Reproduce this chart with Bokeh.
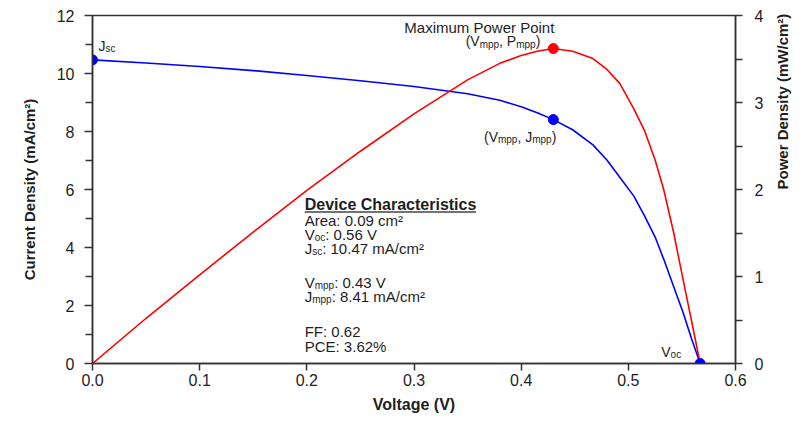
import math
from bokeh.plotting import figure
from bokeh.models import Range1d, LinearAxis, FixedTicker, NumeralTickFormatter
from bokeh.core.properties import value
from bokeh.embed import file_html
from bokeh.resources import INLINE

# ---------------- data ----------------
voltage = [0.000, 0.050, 0.100, 0.150, 0.200, 0.250, 0.300, 0.350, 0.380, 0.400,
           0.415, 0.430, 0.448, 0.467, 0.480, 0.492, 0.505, 0.515, 0.525, 0.533,
           0.542, 0.551, 0.559, 0.567]
current_density = [10.47, 10.36, 10.24, 10.10, 9.93, 9.75, 9.55, 9.30, 9.08, 8.85,
                   8.65, 8.41, 8.06, 7.54, 7.02, 6.42, 5.78, 5.10, 4.36, 3.60,
                   2.68, 1.77, 0.85, 0.00]
power_density = [0.00, 0.52, 1.02, 1.51, 1.99, 2.44, 2.87, 3.26, 3.45, 3.54,
                 3.59, 3.62, 3.59, 3.505, 3.38, 3.22, 2.93, 2.68, 2.34, 2.00,
                 1.52, 0.97, 0.49, 0.00]

jsc_point = (0.0, 10.47)
mpp_point_j = (0.43, 8.41)
mpp_point_p = (0.43, 3.62)
voc_point = (0.567, 0.0)

x_ticks = [0.0, 0.1, 0.2, 0.3, 0.4, 0.5, 0.6]
y_ticks = [0, 2, 4, 6, 8, 10, 12]
y_minor = [1, 3, 5, 7, 9, 11]
p_ticks = [0, 1, 2, 3, 4]
p_minor = [0.5, 1.5, 2.5, 3.5]

x_title = "Voltage (V)"
y_title = "Current Density (mA/cm²)"
p_title = "Power Density (mW/cm²)"

device_lines = [
    [("Device Characteristics", "b")],
    [("Area: 0.09 cm²", "n")],
    [("V", "n"), ("oc", "s"), (": 0.56 V", "n")],
    [("J", "n"), ("sc", "s"), (": 10.47 mA/cm²", "n")],
    [("V", "n"), ("mpp", "s"), (": 0.43 V", "n")],
    [("J", "n"), ("mpp", "s"), (": 8.41 mA/cm²", "n")],
    [("FF: 0.62", "n")],
    [("PCE: 3.62%", "n")],
]

# ---------------- layout ----------------
X0, X1 = 0.0, 0.6
Y0, Y1 = 0.0, 12.0
P0, P1 = 0.0, 4.0
FRAME_W, FRAME_H = 644, 350
PX_PER_V = FRAME_W / (X1 - X0)
PX_PER_J = FRAME_H / (Y1 - Y0)
BASE_FIX = -5  # empirical baseline correction for text glyphs

FONT = value("Liberation Sans")
TXT = "#1e1e1e"
AXC = "#333333"

p = figure(width=802, height=415, x_range=Range1d(X0, X1), y_range=Range1d(Y0, Y1),
           output_backend="svg", toolbar_location=None,
           min_border_left=92, min_border_right=66, min_border_top=15, min_border_bottom=50)
p.extra_y_ranges = {"power": Range1d(P0, P1)}
p.grid.visible = False
p.outline_line_color = AXC
p.outline_line_width = 1.5
p.background_fill_color = "white"
p.border_fill_color = "white"

right = LinearAxis(y_range_name="power")
p.add_layout(right, "right")

p.xaxis.ticker = FixedTicker(ticks=x_ticks, minor_ticks=[])
p.xaxis.formatter = NumeralTickFormatter(format="0.0")
p.yaxis[0].ticker = FixedTicker(ticks=y_ticks, minor_ticks=y_minor)
right.ticker = FixedTicker(ticks=p_ticks, minor_ticks=p_minor)

p.xaxis.axis_label = x_title
p.yaxis[0].axis_label = y_title

for ax in [p.xaxis[0], p.yaxis[0], right]:
    ax.axis_line_color = AXC
    ax.axis_line_width = 1.5
    ax.major_tick_line_color = AXC
    ax.minor_tick_line_color = AXC
    ax.major_tick_line_width = 1.5
    ax.minor_tick_line_width = 1.5
    ax.major_tick_in = 0
    ax.major_tick_out = 8
    ax.minor_tick_in = 0
    ax.minor_tick_out = 7
    ax.major_label_text_font = "Liberation Sans"
    ax.major_label_text_font_size = "16px"
    ax.major_label_text_color = TXT
    ax.axis_label_text_font = "Liberation Sans"
    ax.axis_label_text_font_style = "bold"
    ax.axis_label_text_color = TXT

p.xaxis.major_tick_out = 7
p.xaxis.major_label_standoff = 3
p.xaxis.axis_label_standoff = 7
p.xaxis.axis_label_text_font_size = "16px"
p.yaxis[0].major_label_standoff = 10
p.yaxis[0].axis_label_standoff = 16
p.yaxis[0].axis_label_text_font_size = "15px"
right.major_label_standoff = 12
right.major_tick_out = 7

# right-hand title: an extra bare axis whose single tick label reads bottom-to-top
title_axis = LinearAxis(y_range_name="power",
                        ticker=FixedTicker(ticks=[(P0 + P1) / 2], minor_ticks=[]),
                        major_label_overrides={(P0 + P1) / 2: p_title},
                        major_label_orientation=math.pi / 2,
                        axis_line_color=None, major_tick_line_color=None,
                        minor_tick_line_color=None, major_tick_out=0, major_tick_in=0,
                        major_label_standoff=16,
                        major_label_text_font="Liberation Sans",
                        major_label_text_font_size="15px",
                        major_label_text_font_style="bold",
                        major_label_text_color=TXT)
p.add_layout(title_axis, "right")

# ---------------- curves ----------------
p.line(voltage, current_density, line_color="#0000ff", line_width=1.6)
p.line(voltage, power_density, line_color="#ff0000", line_width=1.6, y_range_name="power")

p.scatter([jsc_point[0], mpp_point_j[0], voc_point[0]],
          [jsc_point[1], mpp_point_j[1], voc_point[1]],
          size=10, fill_color="#0000ff", line_color="#0000ff")
p.scatter([mpp_point_p[0]], [mpp_point_p[1]], size=10, fill_color="#ff0000",
          line_color="#ff0000", y_range_name="power")

# ---------------- rich text helper ----------------
REG = {' ': 278, '(': 333, ')': 333, ',': 278, '.': 278, '/': 278, ':': 278, '%': 889, '²': 333,
       'A': 667, 'C': 722, 'E': 667, 'F': 611, 'J': 500, 'M': 833, 'P': 667, 'V': 667,
       'a': 556, 'c': 500, 'e': 556, 'i': 222, 'm': 833, 'n': 556, 'o': 556, 'p': 556,
       'r': 333, 's': 500, 't': 278, 'u': 556, 'w': 722, 'x': 500}
BOLD = {' ': 278, 'C': 722, 'D': 722, 'a': 556, 'c': 556, 'e': 556, 'h': 611, 'i': 278,
        'r': 389, 's': 556, 't': 333, 'v': 556}


def text_width(s, size, bold=False):
    tab = BOLD if bold else REG
    return sum(tab.get(ch, 556) for ch in s) / 1000.0 * size


def rich(parts, ax, ay, dx, dy, size=14, sub=10, align="left", **kw):
    widths = []
    for t, k in parts:
        widths.append(text_width(t, sub if k == "s" else size, k == "b"))
    total = sum(widths)
    if align == "right":
        cur = dx - total
    elif align == "center":
        cur = dx - total / 2
    else:
        cur = dx
    for (t, k), w in zip(parts, widths):
        p.text(x=[ax], y=[ay], text=[t], x_offset=cur,
               y_offset=dy + BASE_FIX + (3 if k == "s" else 0),
               text_font=FONT, text_font_size=f"{sub if k == 's' else size}px",
               text_font_style="bold" if k == "b" else "normal",
               text_color=TXT, text_align="left", text_baseline="alphabetic", **kw)
        cur += w
    return total


# point labels
rich([("J", "n"), ("sc", "s")], jsc_point[0], jsc_point[1], 6, -9, size=14)
rich([("Maximum Power Point", "n")], mpp_point_p[0], mpp_point_p[1], -74, -16.5,
     size=15, align="center", y_range_name="power")
rich([("(V", "n"), ("mpp", "s"), (", P", "n"), ("mpp", "s"), (")", "n")],
     mpp_point_p[0], mpp_point_p[1], -13, -2.5, size=14, align="right", y_range_name="power")
rich([("(V", "n"), ("mpp", "s"), (", J", "n"), ("mpp", "s"), (")", "n")],
     mpp_point_j[0], mpp_point_j[1], 3, 22, size=14, align="right")
rich([("V", "n"), ("oc", "s")], voc_point[0], voc_point[1], -19, -7, size=14, align="right")

# device characteristics block
BOX_X = 0.198
line_dy = [-154.3, -137.7, -124.3, -110.0, -75.7, -61.7, -26.7, -11.7]
head_w = 0
for parts, dy in zip(device_lines, line_dy):
    bold = parts[0][1] == "b"
    w = rich(parts, BOX_X, Y0, 0, dy, size=16 if bold else 15, sub=10)
    if bold:
        head_w = w
ul_y = Y0 + (-line_dy[0] - 2.0) / PX_PER_J
p.segment(x0=[BOX_X], x1=[BOX_X + head_w / PX_PER_V], y0=[ul_y], y1=[ul_y],
          line_color="#444444", line_width=1.6)

open("out.html", "w").write(file_html(p, INLINE))
